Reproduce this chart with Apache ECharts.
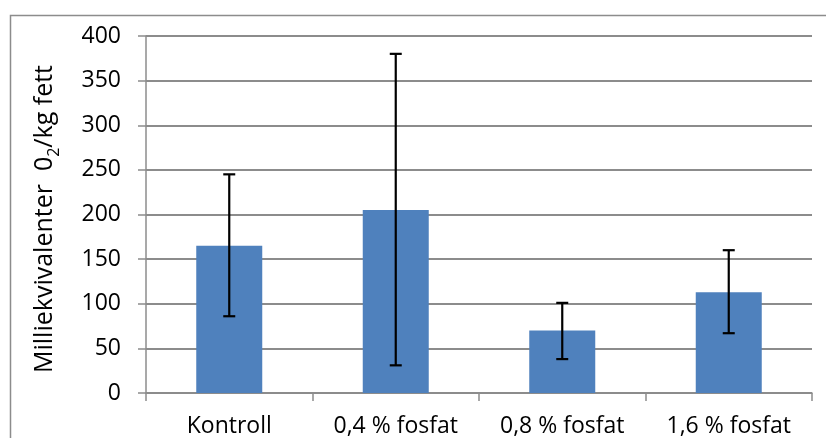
<!DOCTYPE html>
<html>
<head>
<meta charset="utf-8">
<script src="https://cdn.jsdelivr.net/npm/echarts@6/dist/echarts.min.js"></script>
<style>html,body{margin:0;padding:0;background:#fff}#c{width:826px;height:438px}</style>
</head>
<body>
<div id="c"></div>
<script>
const categories = ['Kontroll', '0,4 % fosfat', '0,8 % fosfat', '1,6 % fosfat'];
const values = [165, 205, 70, 113];
const errLow = [86, 31, 38, 67];
const errHigh = [245, 380, 101, 160];
const yTicks = {min: 0, max: 400, interval: 50};

const FONT = '"Open Sans", sans-serif';
const chart = echarts.init(document.getElementById('c'), null, {renderer: 'canvas'});
chart.setOption({
  animation: false,
  backgroundColor: '#fff',
  graphic: [{
    type: 'rect', left: 8, top: 13, shape: {width: 840, height: 440},
    style: {fill: 'none', stroke: '#8c8c8c', lineWidth: 1.5}, silent: true, z: -1
  }],
  grid: {left: 146, right: 14, top: 36, bottom: 45, containLabel: false},
  xAxis: {
    type: 'category', data: categories,
    axisLine: {lineStyle: {color: '#8c8c8c', width: 1.5}},
    axisTick: {show: true, length: 8, lineStyle: {color: '#8c8c8c', width: 1.5}},
    axisLabel: {color: '#000', fontFamily: FONT, fontSize: 23, margin: 22}
  },
  yAxis: {
    type: 'value', min: yTicks.min, max: yTicks.max, interval: yTicks.interval,
    axisLine: {show: true, lineStyle: {color: '#8c8c8c', width: 1.5}},
    axisTick: {show: true, length: 8, lineStyle: {color: '#8c8c8c', width: 1.5}},
    splitLine: {lineStyle: {color: '#8c8c8c', width: 2}},
    axisLabel: {color: '#000', fontFamily: FONT, fontSize: 23, margin: 25},
    name: '{n|Milliekvivalenter  0}{s|2}{n|/kg fett}',
    nameLocation: 'middle', nameGap: 84, nameRotate: 90,
    nameTextStyle: {
      color: '#000', fontFamily: FONT, fontSize: 25, padding: [0, 9, 0, 0],
      rich: {
        n: {fontFamily: FONT, fontSize: 25, color: '#000', lineHeight: 34, verticalAlign: 'middle'},
        s: {fontFamily: FONT, fontSize: 16, color: '#000', lineHeight: 34, verticalAlign: 'bottom'}
      }
    }
  },
  series: [{
    type: 'bar', data: values, barWidth: 66,
    itemStyle: {color: '#4f81bd'}
  }, {
    type: 'custom', data: categories.map((c, i) => [i, errLow[i], errHigh[i]]),
    z: 10,
    renderItem: function (params, api) {
      const lo = api.coord([api.value(0), api.value(1)]);
      const hi = api.coord([api.value(0), api.value(2)]);
      const w = 6;
      const st = {stroke: '#000', lineWidth: 2.2};
      return {type: 'group', children: [
        {type: 'line', shape: {x1: lo[0], y1: lo[1], x2: hi[0], y2: hi[1]}, style: st},
        {type: 'line', shape: {x1: lo[0] - w, y1: lo[1], x2: lo[0] + w, y2: lo[1]}, style: st},
        {type: 'line', shape: {x1: hi[0] - w, y1: hi[1], x2: hi[0] + w, y2: hi[1]}, style: st}
      ]};
    }
  }]
});
</script>
</body>
</html>
